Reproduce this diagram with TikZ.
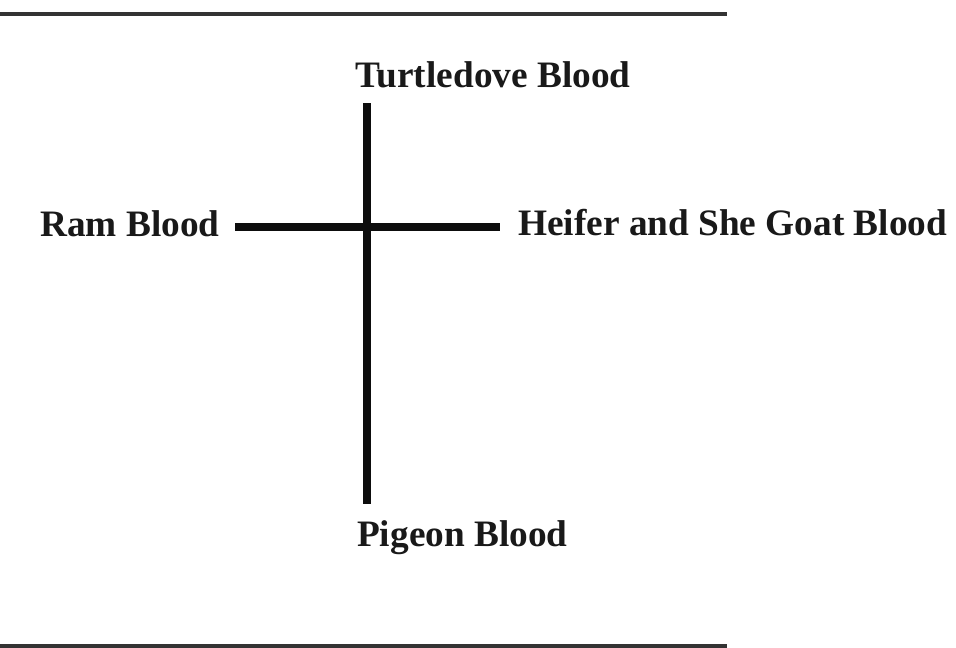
\documentclass[tikz,border=0pt]{standalone}
\usepackage{fontspec}
\setmainfont{Liberation Serif}
\begin{document}
\begin{tikzpicture}[x=1pt,y=-1pt,
  lbl/.style={inner sep=0pt,anchor=base west,font=\fontsize{37.3}{40}\selectfont\bfseries,text=black!90},
  rule/.style={line width=4pt,draw=black!80},
  bar/.style={line width=8.5pt,draw=black!95}]
\useasboundingbox[fill=white] (0,0) rectangle (956,648);
\coordinate (r1a) at (0,14);
\coordinate (r1b) at (727,14);
\coordinate (r2a) at (0,646);
\coordinate (r2b) at (727,646);
\draw[rule] (r1a) -- (r1b);
\draw[rule] (r2a) -- (r2b);
\node[lbl] (turtle) at (355,87) {Turtledove Blood};
\node[lbl] (ram) at (40,236) {Ram Blood};
\node[lbl] (heifer) at (518,235) {Heifer and She Goat Blood};
\node[lbl] (pigeon) at (357,546) {Pigeon Blood};
\coordinate (vt) at (367,103);
\coordinate (vb) at (367,504);
\coordinate (hl) at (235,227);
\coordinate (hr) at (500,227);
\draw[bar] (vt) -- (vb);
\draw[bar] (hl) -- (hr);
\end{tikzpicture}
\end{document}
